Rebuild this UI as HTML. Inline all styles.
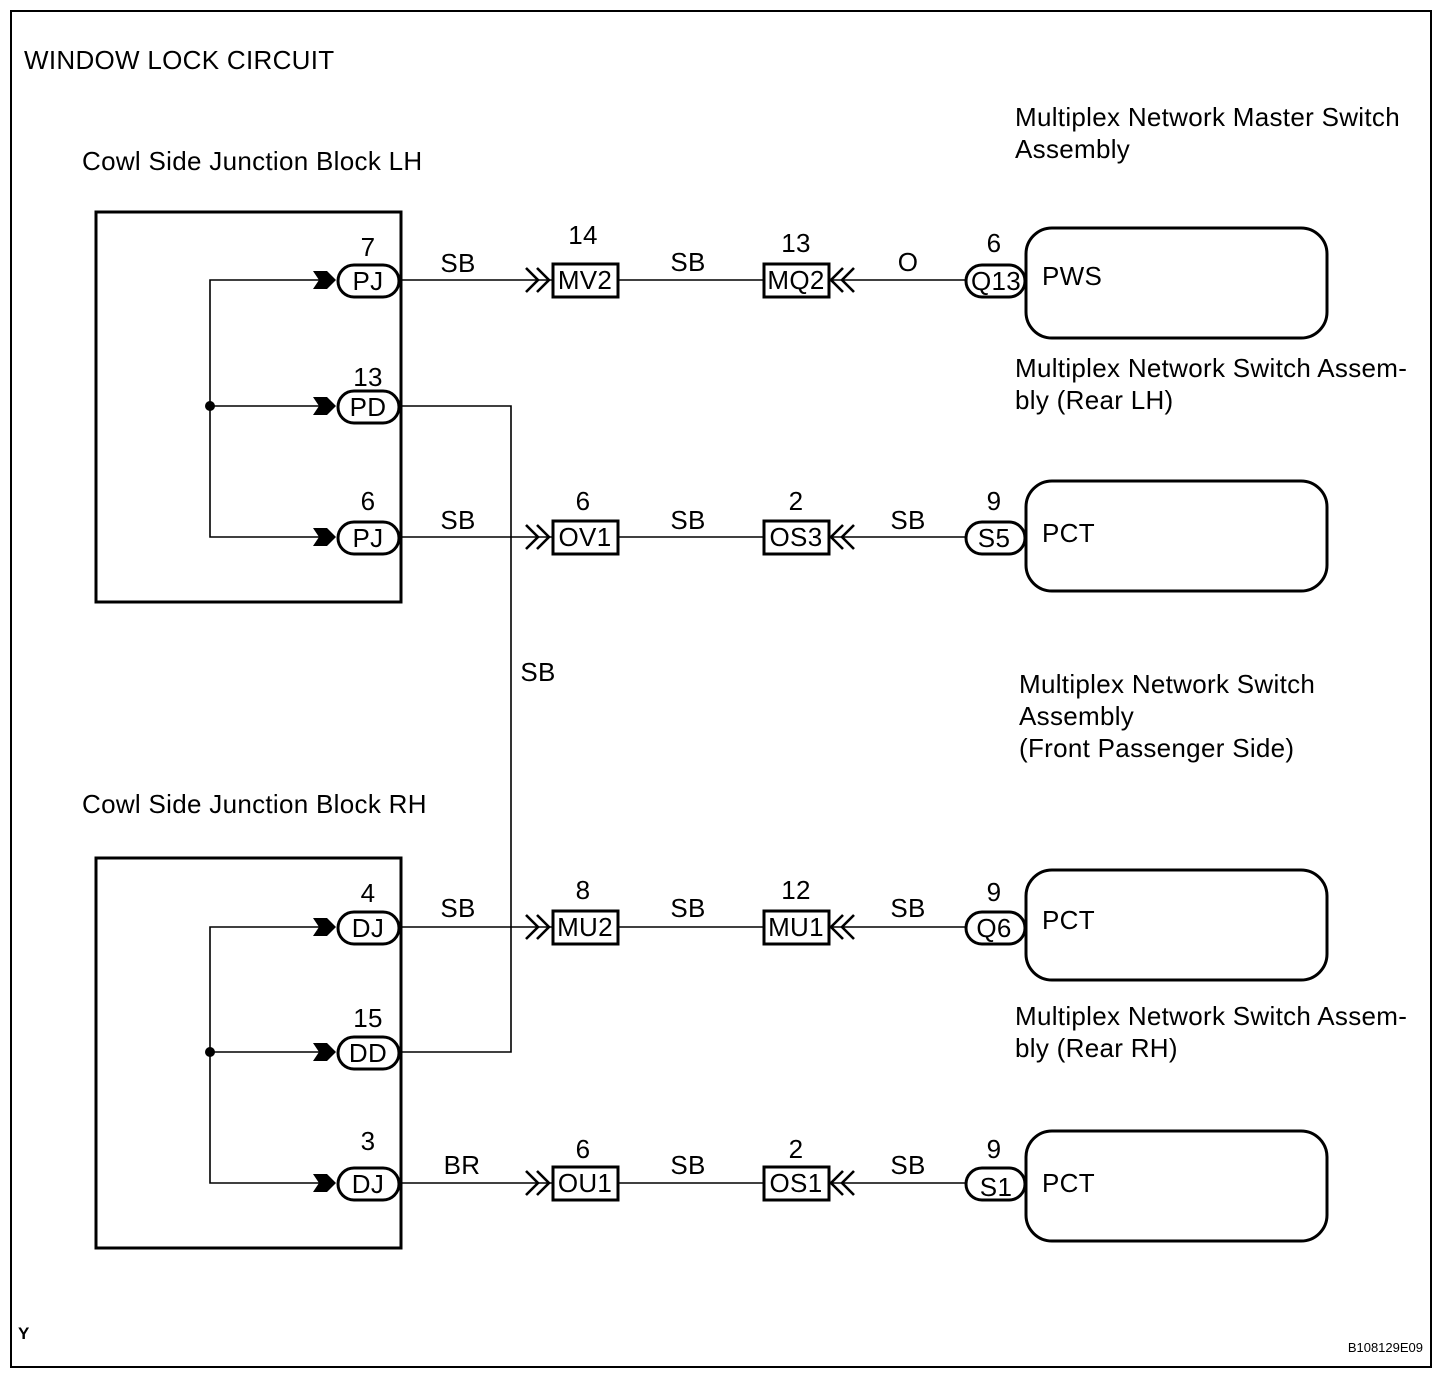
<!DOCTYPE html>
<html><head><style>
html,body{margin:0;padding:0;background:#fff}
svg{display:block}
text{font-family:"Liberation Sans",Arial,sans-serif;fill:#000}
</style></head><body>
<svg width="1456" height="1392" viewBox="0 0 1456 1392" xmlns="http://www.w3.org/2000/svg">
<g fill="none" stroke="#000">
<rect x="11" y="11" width="1420" height="1356" stroke-width="2"/>
<rect x="96" y="212" width="305" height="390" stroke-width="3"/>
<rect x="96" y="858" width="305" height="390" stroke-width="3"/>
<g stroke-width="1.6">
<polyline points="320,280 210,280 210,537 320,537"/>
<line x1="210" y1="406" x2="320" y2="406"/>
<polyline points="320,927 210,927 210,1183 320,1183"/>
<line x1="210" y1="1052" x2="320" y2="1052"/>
<polyline points="401,406 511,406 511,1052 401,1052"/>
<line x1="401" y1="280" x2="965" y2="280"/>
<line x1="401" y1="537" x2="965" y2="537"/>
<line x1="401" y1="927" x2="965" y2="927"/>
<line x1="401" y1="1183" x2="965" y2="1183"/>
</g>
</g>
<circle cx="210" cy="406" r="5" fill="#000"/>
<circle cx="210" cy="1052" r="5" fill="#000"/>

<g stroke="#000" stroke-width="3">
<g fill="#000" stroke="none">
<polygon points="313,271 327,271 336,280 327,289 313,289 319,280"/>
<polygon points="313,397 327,397 336,406 327,415 313,415 319,406"/>
<polygon points="313,528 327,528 336,537 327,546 313,546 319,537"/>
<polygon points="313,918 327,918 336,927 327,936 313,936 319,927"/>
<polygon points="313,1043 327,1043 336,1052 327,1061 313,1061 319,1052"/>
<polygon points="313,1174 327,1174 336,1183 327,1192 313,1192 319,1183"/>
</g>
<g fill="#fff">
<rect x="338" y="265" width="61" height="32" rx="16"/>
<rect x="338" y="391" width="61" height="32" rx="16"/>
<rect x="338" y="522" width="61" height="32" rx="16"/>
<rect x="338" y="912" width="61" height="32" rx="16"/>
<rect x="338" y="1037" width="61" height="32" rx="16"/>
<rect x="338" y="1168" width="61" height="32" rx="16"/>
<rect x="966" y="265" width="59" height="32" rx="16"/>
<rect x="966" y="522" width="59" height="32" rx="16"/>
<rect x="966" y="912" width="59" height="32" rx="16"/>
<rect x="966" y="1168" width="59" height="32" rx="16"/>
<rect x="553" y="264" width="65" height="33"/>
<rect x="553" y="521" width="65" height="33"/>
<rect x="553" y="911" width="65" height="33"/>
<rect x="553" y="1167" width="65" height="33"/>
<rect x="764" y="264" width="65" height="33"/>
<rect x="764" y="521" width="65" height="33"/>
<rect x="764" y="911" width="65" height="33"/>
<rect x="764" y="1167" width="65" height="33"/>
<rect x="1026" y="228" width="301" height="110" rx="26"/>
<rect x="1026" y="481" width="301" height="110" rx="26"/>
<rect x="1026" y="870" width="301" height="110" rx="26"/>
<rect x="1026" y="1131" width="301" height="110" rx="26"/>
</g>
<g fill="none" stroke-width="2.6">
<path d="M526,268 538,280 526,292 M537,268 549,280 537,292 M843,268 831,280 843,292 M854,268 842,280 854,292"/>
<path d="M526,525 538,537 526,549 M537,525 549,537 537,549 M843,525 831,537 843,549 M854,525 842,537 854,549"/>
<path d="M526,915 538,927 526,939 M537,915 549,927 537,939 M843,915 831,927 843,939 M854,915 842,927 854,939"/>
<path d="M526,1171 538,1183 526,1195 M537,1171 549,1183 537,1195 M843,1171 831,1183 843,1195 M854,1171 842,1183 854,1195"/>
</g>
</g>

<g font-size="26" letter-spacing="0.3">
<text x="24" y="69">WINDOW LOCK CIRCUIT</text>
<text x="82" y="170">Cowl Side Junction Block LH</text>
<text x="82" y="813">Cowl Side Junction Block RH</text>
<text x="1015" y="126">Multiplex Network Master Switch</text>
<text x="1015" y="158">Assembly</text>
<text x="1015" y="377">Multiplex Network Switch Assem-</text>
<text x="1015" y="409">bly (Rear LH)</text>
<text x="1019" y="693">Multiplex Network Switch</text>
<text x="1019" y="725">Assembly</text>
<text x="1019" y="757">(Front Passenger Side)</text>
<text x="1015" y="1025">Multiplex Network Switch Assem-</text>
<text x="1015" y="1057">bly (Rear RH)</text>
<text x="1042" y="285">PWS</text>
<text x="1042" y="542">PCT</text>
<text x="1042" y="929">PCT</text>
<text x="1042" y="1192">PCT</text>
<g text-anchor="middle">
<text x="368" y="256">7</text><text x="368" y="290">PJ</text>
<text x="368" y="386">13</text><text x="368" y="416">PD</text>
<text x="368" y="510">6</text><text x="368" y="547">PJ</text>
<text x="368" y="902">4</text><text x="368" y="937">DJ</text>
<text x="368" y="1027">15</text><text x="368" y="1062">DD</text>
<text x="368" y="1150">3</text><text x="368" y="1193">DJ</text>
<text x="458" y="272">SB</text><text x="458" y="529">SB</text><text x="458" y="917">SB</text><text x="462" y="1174">BR</text>
<text x="538" y="681">SB</text>
<text x="688" y="271">SB</text><text x="688" y="529">SB</text><text x="688" y="917">SB</text><text x="688" y="1174">SB</text>
<text x="908" y="271">O</text><text x="908" y="529">SB</text><text x="908" y="917">SB</text><text x="908" y="1174">SB</text>
<text x="583" y="244">14</text><text x="585" y="289">MV2</text>
<text x="583" y="510">6</text><text x="585" y="546">OV1</text>
<text x="583" y="899">8</text><text x="585" y="936">MU2</text>
<text x="583" y="1158">6</text><text x="585" y="1192">OU1</text>
<text x="796" y="252">13</text><text x="796" y="289">MQ2</text>
<text x="796" y="510">2</text><text x="796" y="546">OS3</text>
<text x="796" y="899">12</text><text x="796" y="936">MU1</text>
<text x="796" y="1158">2</text><text x="796" y="1192">OS1</text>
<text x="994" y="252">6</text><text x="996" y="290">Q13</text>
<text x="994" y="510">9</text><text x="994" y="547">S5</text>
<text x="994" y="901">9</text><text x="994" y="937">Q6</text>
<text x="994" y="1158">9</text><text x="996" y="1196">S1</text>
</g>
</g>
<text x="18" y="1339" font-size="17" font-weight="bold">Y</text>
<text x="1423" y="1352" font-size="13" text-anchor="end">B108129E09</text>
</svg>
</body></html>
